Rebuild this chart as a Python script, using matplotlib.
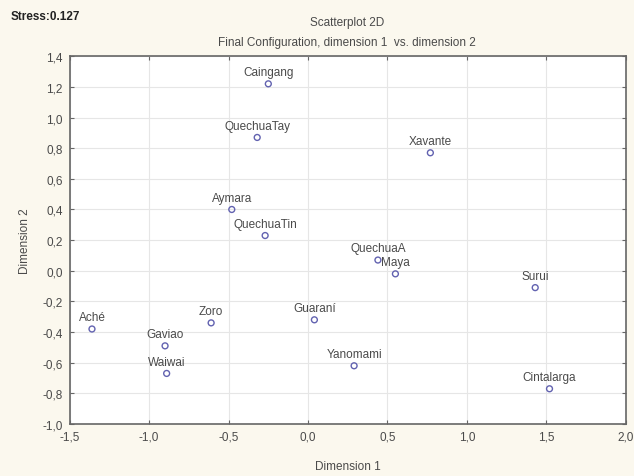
import matplotlib
matplotlib.use("Agg")
import matplotlib.pyplot as plt
import numpy as np

plt.rcParams['font.family'] = ['Liberation Sans', 'DejaVu Sans']

# MDS configuration
groups = ["Caingang", "QuechuaTay", "Xavante", "Aymara", "QuechuaTin",
          "QuechuaA", "Maya", "Surui", "Guaraní", "Zoro", "Aché",
          "Gaviao", "Waiwai", "Yanomami", "Cintalarga"]
dim1 = [-0.25, -0.32, 0.77, -0.48, -0.27, 0.44, 0.55, 1.43, 0.04, -0.61,
        -1.36, -0.90, -0.89, 0.29, 1.52]
dim2 = [1.22, 0.87, 0.77, 0.40, 0.23, 0.07, -0.02, -0.11, -0.32, -0.34,
        -0.38, -0.49, -0.67, -0.62, -0.77]

xticks = [-1.5, -1.0, -0.5, 0.0, 0.5, 1.0, 1.5, 2.0]
yticks = [-1.0, -0.8, -0.6, -0.4, -0.2, 0.0, 0.2, 0.4, 0.6, 0.8, 1.0, 1.2, 1.4]

bg = "#fbf8ee"
txt = "#4a4a4a"

fig = plt.figure(figsize=(6.34, 4.77), dpi=100, facecolor=bg)
ax = fig.add_axes([0.110, 0.109, 0.877, 0.771])
ax.set_facecolor("white")

ax.scatter(dim1, dim2, s=18, facecolors="none", edgecolors="#6262b0",
           linewidths=1.0, zorder=3)
for name, x, y in zip(groups, dim1, dim2):
    ax.annotate(name, (x, y), xytext=(0, 4), textcoords="offset points",
                ha="center", va="bottom", fontsize=8.5, color=txt)

ax.set_xlim(-1.5, 2.0)
ax.set_ylim(-1.0, 1.4)
ax.set_xticks(xticks)
ax.set_yticks(yticks)
ax.set_xticklabels([f"{v:.1f}".replace(".", ",") for v in xticks])
ax.set_yticklabels([f"{v:.1f}".replace(".", ",") for v in yticks])
ax.tick_params(direction="in", length=3, color="#666666", labelsize=8.5,
               labelcolor=txt, top=True, right=True, pad=5)
ax.grid(True, color="#e6e6e6", linewidth=0.8)
ax.set_axisbelow(True)
for sp in ax.spines.values():
    sp.set_color("#666666")
    sp.set_linewidth(1.2)

ax.set_xlabel("Dimension 1", fontsize=8.5, color=txt, labelpad=12)
ax.set_ylabel("Dimension 2", fontsize=8.5, color=txt, labelpad=8)

fig.text(0.547, 0.952, "Scatterplot 2D", ha="center", va="center",
         fontsize=8.5, color=txt)
fig.text(0.547, 0.910, "Final Configuration, dimension 1  vs. dimension 2",
         ha="center", va="center", fontsize=8.5, color=txt)
fig.text(0.016, 0.965, "Stress:0.127", ha="left", va="center",
         fontsize=8.5, fontweight="bold", color="#222222")

fig.savefig("out.png", dpi=100, facecolor=bg)
